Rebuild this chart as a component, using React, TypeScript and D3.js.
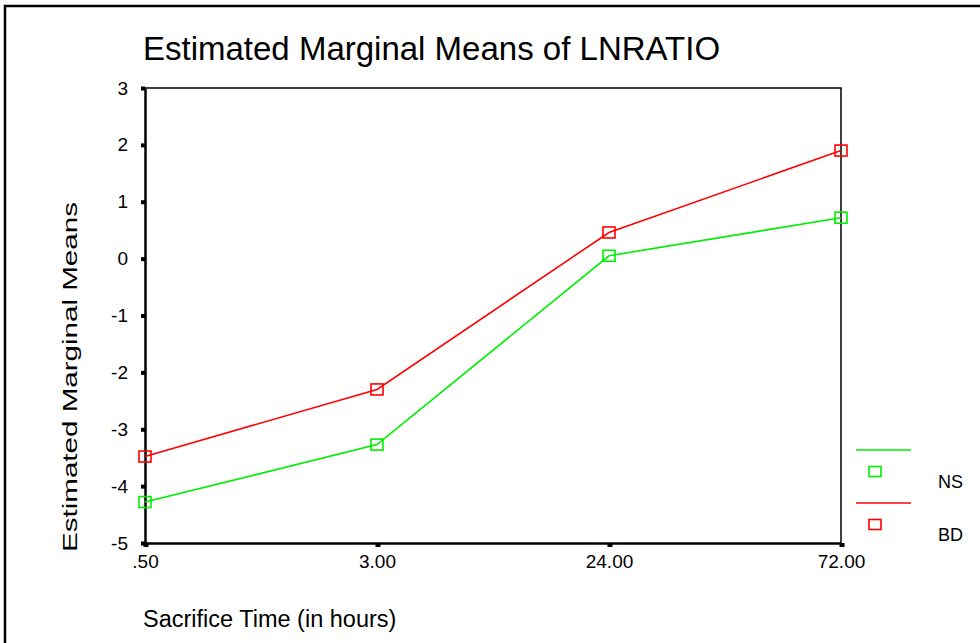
import React, { useEffect, useRef } from 'react';
import * as d3 from 'd3';

// categories on the x axis
const times = ['.50', '3.00', '24.00', '72.00'];
// series values (estimated marginal means)
const nsValues = [-4.28, -3.27, 0.05, 0.72];
const bdValues = [-3.48, -2.3, 0.46, 1.9];
const yTicks = [3, 2, 1, 0, -1, -2, -3, -4, -5];

const seriesNames = ['NS', 'BD'];
const seriesColors = ['#00ee00', '#ff0000'];

const App = () => {
  const svgRef = useRef<SVGSVGElement>(null);

  useEffect(() => {
    const svg = d3.select(svgRef.current);
    svg.selectAll('*').remove();

    const font = 'Liberation Sans, Arial, sans-serif';
    const left = 145, right = 841, top = 88, bottom = 543;

    // outer frame (top and left only visible)
    svg.append('path')
      .attr('d', 'M5,980 L5,6 L980,6')
      .attr('fill', 'none')
      .attr('stroke', '#000')
      .attr('stroke-width', 2.5);

    const x = d3.scalePoint<string>().domain(times).range([left, right]).padding(0);
    const y = d3.scaleLinear().domain([-5, 3]).range([bottom, top]);

    // title
    svg.append('text')
      .attr('x', 143).attr('y', 60)
      .attr('font-family', font).attr('font-size', 33)
      .text('Estimated Marginal Means of LNRATIO');

    // plot frame: top and right thin
    svg.append('path')
      .attr('d', `M${left},${top} L${right},${top} L${right},${bottom}`)
      .attr('fill', 'none').attr('stroke', '#000').attr('stroke-width', 1.5);

    // y axis
    const yAxis = d3.axisLeft(y).tickValues(yTicks).tickSize(0).tickPadding(17).tickFormat(d => String(d));
    const gy = svg.append('g').attr('transform', `translate(${left},0)`).call(yAxis);
    gy.attr('font-size', null).attr('font-family', null);
    gy.select('.domain').attr('stroke', '#000').attr('stroke-width', 2.5);
    gy.selectAll('text').attr('font-family', font).attr('font-size', 19).attr('fill', '#000');
    gy.selectAll('.tick').append('rect')
      .attr('x', -4).attr('y', -2).attr('width', 4).attr('height', 4).attr('fill', '#000');

    // x axis
    const xAxis = d3.axisBottom(x).tickSize(0).tickPadding(12);
    const gx = svg.append('g').attr('transform', `translate(0,${bottom})`).call(xAxis);
    gx.attr('font-size', null).attr('font-family', null);
    gx.select('.domain').attr('stroke', '#000').attr('stroke-width', 2.5);
    gx.selectAll('text').attr('font-family', font).attr('font-size', 19).attr('fill', '#000');
    gx.selectAll('.tick').append('rect')
      .attr('x', -2).attr('y', 0).attr('width', 5).attr('height', 4).attr('fill', '#000');

    // axis titles
    svg.append('text')
      .attr('transform', `translate(77,377) rotate(-90)`)
      .attr('text-anchor', 'middle')
      .attr('font-family', font).attr('font-size', 20)
      .attr('textLength', 350).attr('lengthAdjust', 'spacingAndGlyphs')
      .text('Estimated Marginal Means');
    svg.append('text')
      .attr('x', 143).attr('y', 627)
      .attr('font-family', font).attr('font-size', 23.5)
      .text('Sacrifice Time (in hours)');

    // series
    const allSeries = [nsValues, bdValues];
    const line = d3.line<number>()
      .x((_, i) => x(times[i]) as number)
      .y(d => y(d));

    allSeries.forEach((vals, si) => {
      const col = seriesColors[si];
      svg.append('path')
        .datum(vals)
        .attr('d', line)
        .attr('fill', 'none')
        .attr('stroke', col)
        .attr('stroke-width', 1.6);
      svg.selectAll(`.mk${si}`)
        .data(vals)
        .enter()
        .append('rect')
        .attr('x', (_, i) => (x(times[i]) as number) - 6)
        .attr('y', d => y(d) - 5.5)
        .attr('width', 12).attr('height', 11)
        .attr('fill', 'none')
        .attr('stroke', col)
        .attr('stroke-width', 1.6);
    });

    // legend
    seriesNames.forEach((name, si) => {
      const col = seriesColors[si];
      const ly = 450 + si * 53;
      svg.append('line')
        .attr('x1', 856).attr('x2', 911).attr('y1', ly).attr('y2', ly)
        .attr('stroke', col).attr('stroke-width', 1.6);
      svg.append('rect')
        .attr('x', 869).attr('y', ly + 16.5).attr('width', 12).attr('height', 10)
        .attr('fill', 'none').attr('stroke', col).attr('stroke-width', 1.6);
      svg.append('text')
        .attr('x', 938).attr('y', ly + 38)
        .attr('font-family', font).attr('font-size', 18)
        .text(name);
    });
  }, []);

  return (
    <svg
      ref={svgRef}
      width={980}
      height={643}
      style={{ position: 'absolute', left: 0, top: 0, background: '#fff' }}
    />
  );
};

export default App;
